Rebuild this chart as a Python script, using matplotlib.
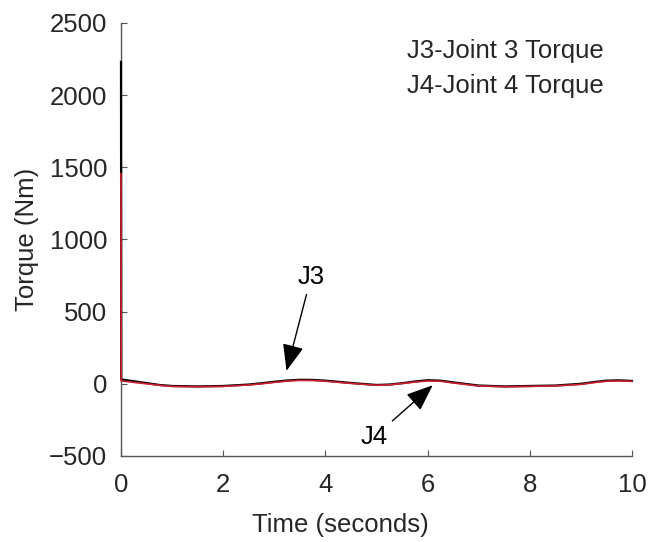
import matplotlib
matplotlib.use('Agg')
import matplotlib.pyplot as plt

plt.rcParams['font.family'] = ['Liberation Sans', 'DejaVu Sans']

# time samples (s)
t = [0, 0.005, 0.25, 0.5, 0.75, 1, 1.5, 2, 2.5, 2.75, 3, 3.25, 3.5, 3.75, 4, 4.5,
     5, 5.25, 5.5, 5.75, 6, 6.25, 6.5, 7, 7.5, 8, 8.5, 9, 9.25, 9.5, 9.75, 10]
j3_torque = [2230, 30, 18, 5, -8, -15, -18, -15, -5, 4, 14, 23, 28, 27, 22, 6,
             -8, -5, 4, 16, 25, 22, 10, -12, -18, -15, -12, 0, 12, 22, 24, 20]
j4_torque = [1455, 20, 10, 0, -10, -18, -20, -18, -8, 0, 10, 19, 24, 23, 18, 3,
             -10, -7, 2, 12, 20, 18, 6, -15, -20, -18, -14, -4, 8, 18, 20, 17]

x_ticks = [0, 2, 4, 6, 8, 10]
y_ticks = [-500, 0, 500, 1000, 1500, 2000, 2500]

text_col = '#262626'
axis_col = '#555555'
fs = 18.5

fig = plt.figure(figsize=(6.53, 5.42), dpi=100)
ax = fig.add_axes([0.1853, 0.1587, 0.7825, 0.799])

ax.plot(t, j3_torque, color='black', lw=1.6, zorder=3, clip_on=False)
ax.plot(t, j4_torque, color='#d0202e', lw=1.2, zorder=3.1, clip_on=False)

ax.set_xlim(0, 10)
ax.set_ylim(-500, 2500)
ax.set_xticks(x_ticks)
ax.set_yticks(y_ticks)
ax.set_yticklabels(['\u2212500' if v < 0 else str(v) for v in y_ticks])

for side in ['top', 'right']:
    ax.spines[side].set_visible(False)
for side in ['left', 'bottom']:
    ax.spines[side].set_color(axis_col)
    ax.spines[side].set_linewidth(1.0)
ax.tick_params(direction='in', length=4, width=0.8, color=axis_col,
               labelsize=fs, labelcolor=text_col)
ax.tick_params(axis='x', pad=12)
ax.tick_params(axis='y', pad=10)

ax.set_xlabel('Time (seconds)', fontsize=fs, color=text_col, labelpad=12, x=0.429)
ax.set_ylabel('Torque (Nm)', fontsize=fs, color=text_col, labelpad=7)

arrow = dict(arrowstyle='-|>,head_length=0.55,head_width=0.22', color='black',
             lw=1.0, mutation_scale=30, shrinkA=2, shrinkB=0)
ax.annotate('J3', xy=(3.24, 90), xytext=(3.72, 740), fontsize=fs, color='black',
            ha='center', va='center', arrowprops=arrow)
ax.annotate('J4', xy=(6.1, -10), xytext=(4.95, -370), fontsize=fs, color='black',
            ha='center', va='center', arrowprops=arrow)

ax.text(0.56, 0.935, 'J3-Joint 3 Torque', transform=ax.transAxes, fontsize=fs,
        color=text_col, va='center')
ax.text(0.56, 0.855, 'J4-Joint 4 Torque', transform=ax.transAxes, fontsize=fs,
        color=text_col, va='center')

fig.savefig('out.png', dpi=100)
